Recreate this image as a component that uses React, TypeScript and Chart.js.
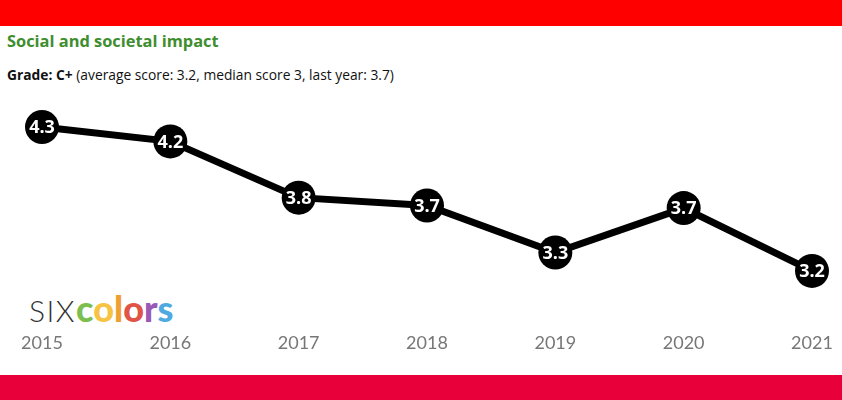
import React, { useEffect, useRef } from "react";
import { Chart, registerables } from "chart.js";

Chart.register(...registerables);

const years = ["2015", "2016", "2017", "2018", "2019", "2020", "2021"];
const scores = [4.3, 4.19, 3.76, 3.7, 3.34, 3.68, 3.2];

const pointLabels = {
  id: "pointLabels",
  afterDatasetsDraw(chart: any) {
    const ctx = chart.ctx;
    const meta = chart.getDatasetMeta(0);
    ctx.save();
    ctx.fillStyle = "#ffffff";
    ctx.font = "700 18px 'Open Sans'";
    ctx.textAlign = "center";
    ctx.textBaseline = "middle";
    meta.data.forEach((pt: any, i: number) => {
      const v = chart.data.datasets[0].data[i] as number;
      ctx.fillText(v.toFixed(1), pt.x, pt.y + 1);
    });
    ctx.restore();
  },
};

export default function App() {
  const ref = useRef<HTMLCanvasElement>(null);
  useEffect(() => {
    if (!ref.current) return;
    const chart = new Chart(ref.current, {
      type: "line",
      data: {
        labels: years,
        datasets: [
          {
            data: scores,
            borderColor: "#000000",
            borderWidth: 7,
            backgroundColor: "#000000",
            pointRadius: 17,
            pointHoverRadius: 17,
            pointBackgroundColor: "#000000",
            pointBorderWidth: 0,
            tension: 0,
            clip: false as any,
          },
        ],
      },
      options: {
        animation: false,
        responsive: false,
        maintainAspectRatio: false,
        layout: { padding: { left: 42, right: 30, top: 110, bottom: 38 } },
        plugins: { legend: { display: false }, tooltip: { enabled: false } },
        scales: {
          x: {
            offset: false,
            grid: { display: false },
            border: { display: false },
            ticks: {
              color: "#777777",
              font: { family: "Lato", size: 18 },
              padding: 8,
              maxRotation: 0,
            },
          },
          y: { display: false, min: 2.852, max: 4.43 },
        },
      },
      plugins: [pointLabels],
    });
    return () => chart.destroy();
  }, []);

  const logoColors = ["#7dbf4f", "#f6c343", "#f0a030", "#e05346", "#9b59b6", "#4ea9e0"];
  const word = "colors";

  return (
    <div
      style={{
        position: "absolute",
        left: 0,
        top: 0,
        width: 842,
        height: 400,
        background: "#ffffff",
        overflow: "hidden",
        fontFamily: "'Open Sans', sans-serif",
      }}
    >
      <div style={{ position: "absolute", left: 0, top: 0, width: 842, height: 26, background: "#ff0000" }} />
      <div style={{ position: "absolute", left: 0, top: 375, width: 842, height: 25, background: "#e8003a" }} />
      <div
        style={{
          position: "absolute",
          left: 7,
          top: 29,
          fontSize: 16.4,
          fontWeight: 700,
          color: "#3e8e2f",
          lineHeight: "24px",
          whiteSpace: "nowrap",
        }}
      >
        Social and societal impact
      </div>
      <div
        style={{
          position: "absolute",
          left: 7,
          top: 64,
          fontSize: 13.8,
          color: "#111111",
          lineHeight: "22px",
          whiteSpace: "nowrap",
        }}
      >
        <b>Grade: C+</b> (average score: 3.2, median score 3, last year: 3.7)
      </div>
      <div
        style={{
          position: "absolute",
          left: 29,
          top: 286,
          lineHeight: "44px",
          whiteSpace: "nowrap",
          fontFamily: "Lato, sans-serif",
        }}
      >
        <span style={{ fontSize: 30, fontWeight: 300, color: "#333333", letterSpacing: 1.5 }}>SIX</span>
        {word.split("").map((ch, i) => (
          <span key={i} style={{ fontSize: 36, fontWeight: 900, color: logoColors[i] }}>
            {ch}
          </span>
        ))}
      </div>
      <canvas ref={ref} width={842} height={400} style={{ position: "absolute", left: 0, top: 0, width: 842, height: 400 }} />
    </div>
  );
}
